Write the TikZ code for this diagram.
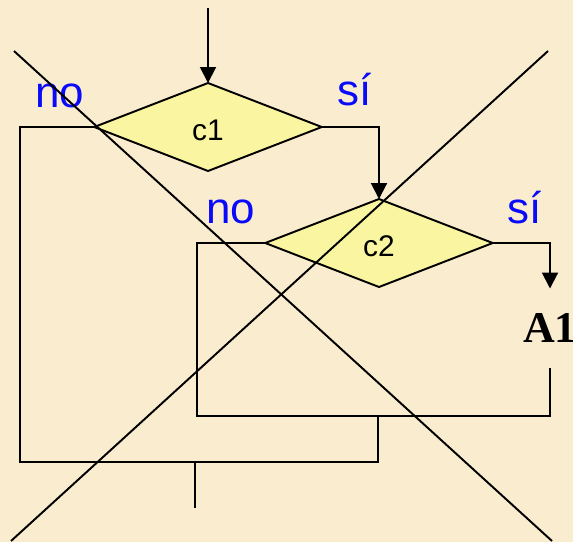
\documentclass[tikz,border=0pt]{standalone}
\usepackage{fontspec}
\usetikzlibrary{positioning}
\usetikzlibrary{arrows.meta}
\usetikzlibrary{shapes.geometric}
\newfontfamily\lblfont{Liberation Sans}
\newfontfamily\actfont{Liberation Serif}
\definecolor{bgbeige}{RGB}{250,236,206}
\definecolor{condfill}{RGB}{250,245,160}
\definecolor{lblblue}{RGB}{10,10,250}

\begin{document}
\begin{tikzpicture}[x=0.02cm, y=-0.02cm, >={Triangle[length=9pt,width=9pt]},
    line width=1.1pt,
    cond/.style={draw, diamond, fill=condfill, inner sep=0pt, outer sep=0pt,
        minimum width=4.55cm, minimum height=1.76cm, text height=16pt,
        font=\lblfont\fontsize{17}{20}\selectfont},
    answer/.style={anchor=base, text=lblblue, font=\lblfont\fontsize{25}{30}\selectfont},
    action/.style={inner xsep=0pt, inner ysep=0.5cm, outer sep=0pt, font=\actfont\bfseries\fontsize{25}{30}\selectfont}]
    % Background and frame
    \path[use as bounding box, fill=bgbeige] (0,0) rectangle (573,542);
    \clip (0,0) rectangle (573,542);

    % Conditions and action
    \node[cond] (c1) at (208,127) {c1};
    \node[cond] (c2) at (379,243) {c2};
    \node[action] (A1) at (550,328) {A1};

    % Answers
    \node[answer] (no1) at (60,107) {no};
    \node[answer] (si1) at (355,105) {sí};
    \node[answer] (no2) at (231,223) {no};
    \node[answer] (si2) at (525,223) {sí};

    % Junction points
    \coordinate (start) at (208,8);
    \coordinate (m2) at (197,416);
    \coordinate (j2) at (378,416);
    \coordinate (m1) at (20,462);
    \coordinate (j1) at (195,462);
    \coordinate (stop) at (195,508);

    % Flow
    \draw[->] (start) -- (c1.north);
    \draw[->] (c1.east) -| (c2.north);
    \draw[->] (c2.east) -| (A1.north);
    \draw (c2.west) -| (m2) -| (A1.south);
    \draw (c1.west) -| (m1) -| (j2);
    \draw (j1) -- (stop);

    % Crossing out
    \coordinate (x1a) at (14,51);
    \coordinate (x1b) at (552,541);
    \coordinate (x2a) at (11,541);
    \coordinate (x2b) at (548,51);
    \draw (x1a) -- (x1b);
    \draw (x2a) -- (x2b);
\end{tikzpicture}
\end{document}
